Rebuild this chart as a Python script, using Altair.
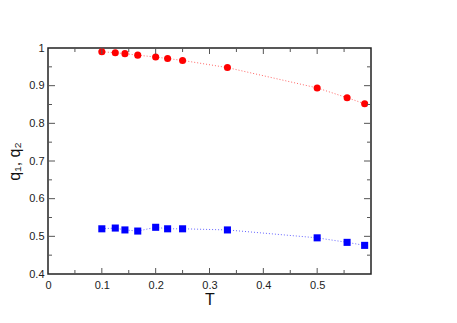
import altair as alt
import pandas as pd

T = [0.1, 0.125, 0.1429, 0.1667, 0.2, 0.2222, 0.25, 0.3333, 0.5, 0.5556, 0.5882]
q1 = [0.990, 0.9875, 0.985, 0.981, 0.976, 0.972, 0.967, 0.948, 0.894, 0.868, 0.852]
q2 = [0.520, 0.522, 0.517, 0.514, 0.524, 0.520, 0.520, 0.517, 0.496, 0.484, 0.476]

x_major = [0.1, 0.2, 0.3, 0.4, 0.5]
x_minor = [0.05, 0.15, 0.25, 0.35, 0.45, 0.55]
y_major = [0.5, 0.6, 0.7, 0.8, 0.9]
y_minor = [0.45, 0.55, 0.65, 0.75, 0.85, 0.95]
x_labels = [0, 0.1, 0.2, 0.3, 0.4, 0.5]
y_labels = [0.4, 0.5, 0.6, 0.7, 0.8, 0.9, 1.0]

W, H = 323, 226

df = pd.DataFrame({
    "T": T * 2,
    "q": q1 + q2,
    "s": ["q1"] * len(T) + ["q2"] * len(T),
})

xs = alt.Scale(domain=[0, 0.6], nice=False, zero=False)
ys = alt.Scale(domain=[0.4, 1.0], nice=False, zero=False)
cscale = alt.Scale(domain=["q1", "q2"], range=["#ff0000", "#0000ff"])

x_axis = alt.Axis(
    values=x_labels, ticks=False, domain=False, grid=False, labelPadding=5,
    labelFontSize=11, labelColor="#222", title="T", titleFontSize=16,
    titleFontWeight="normal", titlePadding=1, titleColor="#111",
    labelFont="Liberation Sans", titleFont="Liberation Sans",
    labelFlush=False, format="~g")
y_axis = alt.Axis(
    values=y_labels, ticks=False, domain=False, grid=False, labelPadding=4,
    labelFontSize=11, labelColor="#222", title="q\u2081, q\u2082", titleFontSize=16,
    titleFontWeight="normal", titlePadding=6, titleColor="#111",
    labelFont="Liberation Sans", titleFont="Liberation Sans",
    labelFlush=False, format="~g")

X = lambda: alt.X("T:Q", scale=xs, axis=x_axis)
Y = lambda: alt.Y("q:Q", scale=ys, axis=y_axis)

base = alt.Chart(df)
lines = base.mark_line(strokeDash=[1, 2], strokeWidth=1, opacity=0.6).encode(
    x=X(), y=Y(),
    color=alt.Color("s:N", scale=cscale, legend=None),
    detail="s:N",
)
pts = base.mark_point(filled=True, opacity=1, size=50).encode(
    x=X(), y=Y(),
    color=alt.Color("s:N", scale=cscale, legend=None),
    shape=alt.Shape("s:N", scale=alt.Scale(domain=["q1", "q2"], range=["circle", "square"]), legend=None),
)

def xticks(vals, length):
    c = alt.Chart(pd.DataFrame({"T": vals}))
    bot = c.mark_rule(color="#555", strokeWidth=1).encode(
        x=X(), y=alt.value(H), y2=alt.value(H - length))
    top = c.mark_rule(color="#555", strokeWidth=1).encode(
        x=X(), y=alt.value(0), y2=alt.value(length))
    return [bot, top]

def yticks(vals, length):
    c = alt.Chart(pd.DataFrame({"q": vals}))
    left = c.mark_rule(color="#555", strokeWidth=1).encode(
        y=Y(), x=alt.value(0), x2=alt.value(length))
    right = c.mark_rule(color="#555", strokeWidth=1).encode(
        y=Y(), x=alt.value(W), x2=alt.value(W - length))
    return [left, right]

layers = [lines, pts] + xticks(x_major, 6) + xticks(x_minor, 4) + yticks(y_major, 7) + yticks(y_minor, 4)

chart = alt.layer(*layers).properties(
    width=W, height=H,
    background="white",
    autosize=alt.AutoSizeParams(type="none"),
    padding={"left": 40, "top": 40, "right": 20, "bottom": 40},
).configure_view(stroke="#222", strokeWidth=1.5)

chart.save("out.html", embed_options={"renderer": "svg", "actions": False})
